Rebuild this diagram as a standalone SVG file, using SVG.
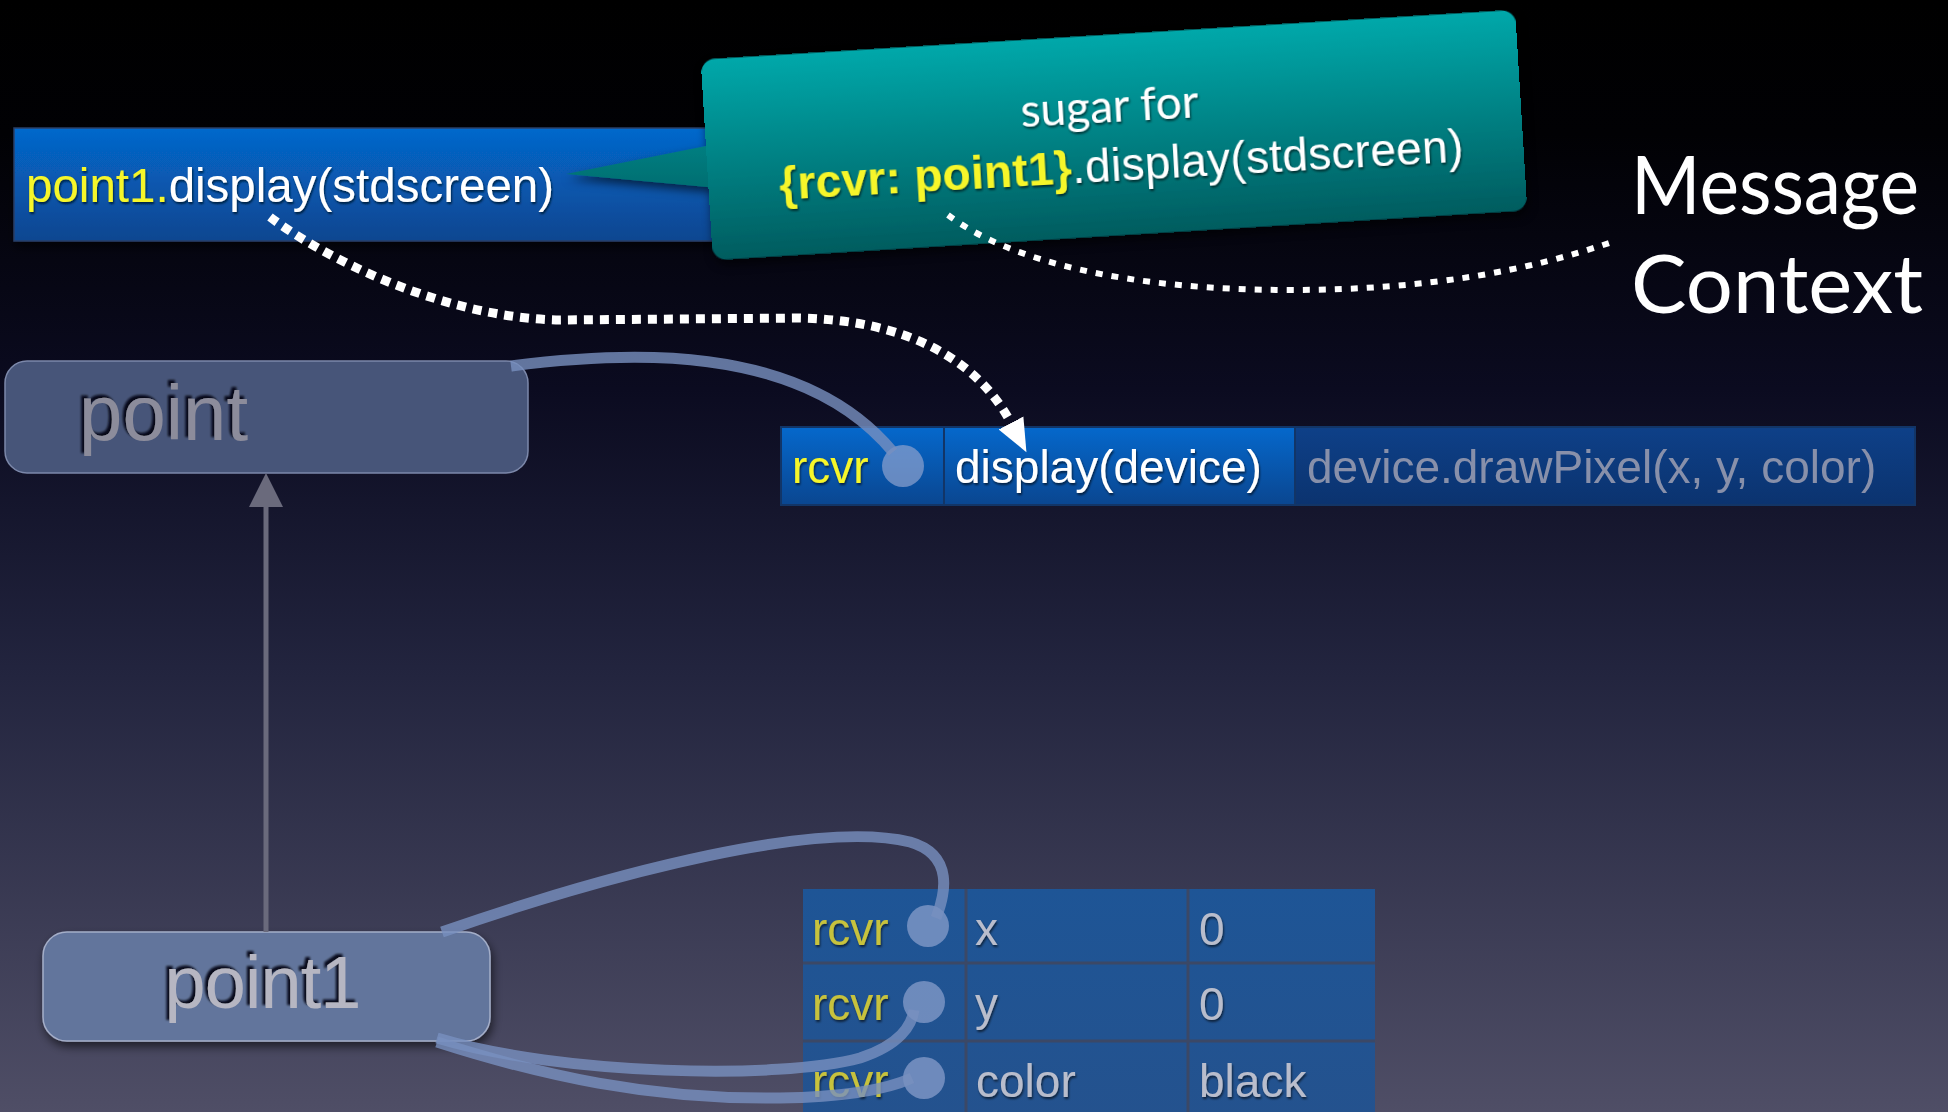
<svg xmlns="http://www.w3.org/2000/svg" width="1948" height="1112" viewBox="0 0 1948 1112">
  <defs>
    <linearGradient id="bg" x1="0" y1="0" x2="0" y2="1">
      <stop offset="0" stop-color="#000000"/>
      <stop offset="0.12" stop-color="#010104"/>
      <stop offset="0.35" stop-color="#0b0b20"/>
      <stop offset="0.6" stop-color="#22243e"/>
      <stop offset="1" stop-color="#4f4e66"/>
    </linearGradient>
    <linearGradient id="barBlue" x1="0" y1="0" x2="0" y2="1">
      <stop offset="0" stop-color="#0568cc"/>
      <stop offset="1" stop-color="#0a4690"/>
    </linearGradient>
    <linearGradient id="cellDark" x1="0" y1="0" x2="0" y2="1">
      <stop offset="0" stop-color="#0e4088"/>
      <stop offset="1" stop-color="#0b336f"/>
    </linearGradient>
    <linearGradient id="slotBlue" x1="0" y1="0" x2="0" y2="1">
      <stop offset="0" stop-color="#1e5596"/>
      <stop offset="1" stop-color="#24528e"/>
    </linearGradient>
    <linearGradient id="tealBox" x1="0" y1="0" x2="0" y2="1">
      <stop offset="0" stop-color="#00a8aa"/>
      <stop offset="1" stop-color="#005c5f"/>
    </linearGradient>
    <linearGradient id="tealTail" gradientUnits="userSpaceOnUse" x1="0" y1="35" x2="0" y2="236">
      <stop offset="0" stop-color="#00a8aa"/>
      <stop offset="1" stop-color="#005c5f"/>
    </linearGradient>
    <filter id="txtSh" x="-5%" y="-20%" width="110%" height="140%">
      <feDropShadow dx="1" dy="2" stdDeviation="1" flood-color="#000" flood-opacity="0.6"/>
    </filter>
    <filter id="engrave" x="-5%" y="-20%" width="110%" height="140%">
      <feDropShadow dx="-3" dy="-3" stdDeviation="1.2" flood-color="#05050f" flood-opacity="0.9"/>
    </filter>
    <filter id="boxSh" x="-10%" y="-20%" width="120%" height="150%">
      <feDropShadow dx="2" dy="5" stdDeviation="5" flood-color="#000" flood-opacity="0.6"/>
    </filter>
    <marker id="dotHead" markerUnits="userSpaceOnUse" viewBox="0 -16 36 32" refX="0" refY="0" markerWidth="36" markerHeight="32" orient="auto">
      <path d="M0,-14 L33,0 L0,14 Z" fill="#ffffff"/>
    </marker>
    <marker id="isaHead" markerUnits="userSpaceOnUse" viewBox="0 -18 36 36" refX="0" refY="0" markerWidth="36" markerHeight="36" orient="auto">
      <path d="M0,-17 L34,0 L0,17 Z" fill="#6a6a7c"/>
    </marker>
    <style>
      .sans { font-family: "Liberation Sans", Arial, Helvetica, sans-serif; }
      .humanist { font-family: Lato, "Open Sans", sans-serif; }
      .yellow { fill: #f6f62a; }
      .white { fill: #ffffff; }
      .slotTxt { fill: #b9bdcc; font-size: 46px; }
      .slotRcvr { fill: #c7c23c; font-size: 46px; }
      .knob { fill: #8ea2cf; fill-opacity: 0.7; }
      .gridLine { stroke: #3b4866; stroke-width: 3; }
      .band { fill: none; stroke: #7890bf; stroke-opacity: 0.8; stroke-width: 11; }
      .dots { fill: none; stroke: #ffffff; }
    </style>
  </defs>

  <!-- backdrop -->
  <rect x="0" y="0" width="1948" height="1112" fill="url(#bg)"/>

  <!-- message send expression -->
  <g id="message-send" filter="url(#boxSh)">
    <rect x="14" y="128" width="730" height="113" fill="url(#barBlue)" stroke="#2a3f66" stroke-width="1.5"/>
    <text class="sans" x="26" y="202" font-size="47.5" filter="url(#txtSh)"><tspan class="yellow">point1.</tspan><tspan class="white">display(stdscreen)</tspan></text>
  </g>

  <!-- speech bubble explaining the sugar -->
  <g id="sugar-callout">
    <g filter="url(#boxSh)">
      <polygon points="566,174 716,144 718,188" fill="url(#tealTail)"/>
      <rect x="706" y="34.5" width="816" height="201" rx="14" fill="url(#tealBox)" transform="rotate(-3.5 1114 135)"/>
    </g>
    <g transform="rotate(-3.2 1114 135)" filter="url(#txtSh)">
      <text class="humanist white" x="1111" y="122" font-size="46" text-anchor="middle">sugar for</text>
      <text class="sans" x="777" y="181" font-size="46" textLength="685"><tspan class="yellow" font-weight="bold">{rcvr: point1}</tspan><tspan class="white">.display(stdscreen)</tspan></text>
    </g>
  </g>

  <!-- heading -->
  <g id="heading" class="humanist white">
    <text x="1631" y="214" font-size="82" textLength="288" lengthAdjust="spacingAndGlyphs">Message</text>
    <text x="1631" y="313" font-size="82" textLength="292" lengthAdjust="spacingAndGlyphs">Context</text>
  </g>

  <!-- prototype object -->
  <g id="node-point">
    <rect x="5" y="361" width="523" height="112" rx="22" fill="#475579" stroke="#7c88aa" stroke-width="1.5"/>
    <text class="sans" x="79" y="440" font-size="78" fill="#8c8c9b" filter="url(#engrave)">point</text>
  </g>

  <!-- method slot of point -->
  <g id="method-display">
    <rect x="781" y="427" width="163" height="78" fill="url(#barBlue)" stroke="#123567" stroke-width="2"/>
    <rect x="944" y="427" width="351" height="78" fill="url(#barBlue)" stroke="#123567" stroke-width="2"/>
    <rect x="1295" y="427" width="620" height="78" fill="url(#cellDark)" stroke="#123567" stroke-width="2"/>
    <text class="sans yellow" x="792" y="483" font-size="46" filter="url(#txtSh)">rcvr</text>
    <text class="sans white" x="955" y="483" font-size="46" filter="url(#txtSh)">display(device)</text>
    <text class="sans" x="1307" y="483" font-size="46" fill="#8890aa">device.drawPixel(x, y, color)</text>
    <circle class="knob" cx="903" cy="466" r="21"/>
  </g>

  <!-- instance object -->
  <g id="node-point1">
    <rect x="43" y="932" width="447" height="109" rx="24" fill="#6477a0" fill-opacity="0.95" stroke="#a4aec8" stroke-width="1.5" filter="url(#boxSh)"/>
    <text class="sans" x="263" y="1008" font-size="74" fill="#b6b6c2" text-anchor="middle" textLength="197" filter="url(#engrave)">point1</text>
  </g>

  <!-- instance slots -->
  <g id="slots-point1">
    <rect x="803" y="889" width="572" height="230" fill="url(#slotBlue)"/>
    <line class="gridLine" x1="966" y1="889" x2="966" y2="1112"/>
    <line class="gridLine" x1="1188" y1="889" x2="1188" y2="1112"/>
    <line class="gridLine" x1="803" y1="963" x2="1375" y2="963"/>
    <line class="gridLine" x1="803" y1="1041" x2="1375" y2="1041"/>
    <g class="sans" filter="url(#txtSh)">
      <text class="slotRcvr" x="812" y="945">rcvr</text>
      <text class="slotRcvr" x="812" y="1020">rcvr</text>
      <text class="slotRcvr" x="812" y="1097">rcvr</text>
      <text class="slotTxt" x="975" y="945">x</text>
      <text class="slotTxt" x="975" y="1020">y</text>
      <text class="slotTxt" x="976" y="1097">color</text>
      <text class="slotTxt" x="1199" y="945">0</text>
      <text class="slotTxt" x="1199" y="1020">0</text>
      <text class="slotTxt" x="1199" y="1097">black</text>
    </g>
    <circle class="knob" cx="928" cy="926" r="21"/>
    <circle class="knob" cx="924" cy="1002" r="21"/>
    <circle class="knob" cx="924" cy="1078" r="21"/>
  </g>

  <!-- connectors -->
  <g id="connectors">
    <!-- inheritance: point1 to point -->
    <line x1="266" y1="932" x2="266" y2="507" stroke="#6a6a7c" stroke-width="5" marker-end="url(#isaHead)"/>
    <!-- receiver links -->
    <path class="band" d="M511,366 C620,352 800,340 893,452" stroke-width="7" stroke="#62729c"/>
    <path class="band" d="M442,932 C620,870 820,820 910,842 C955,855 945,895 936,918"/>
    <path class="band" d="M437,1038 C560,1075 780,1080 860,1058 C900,1045 912,1025 914,1010"/>
    <path class="band" d="M437,1042 C540,1075 650,1100 780,1098 C850,1097 890,1088 912,1078"/>
    <!-- message lookup path -->
    <path class="dots" d="M270,217 C320,255 440,318 560,320 L800,318 C900,320 975,355 1011,423" stroke-width="9" stroke-dasharray="9 7" marker-end="url(#dotHead)"/>
    <!-- context pointer -->
    <path class="dots" d="M948,215 C1010,262 1130,290 1290,290 C1430,290 1530,270 1612,242" stroke-width="6" stroke-dasharray="7 9"/>
  </g>
</svg>
